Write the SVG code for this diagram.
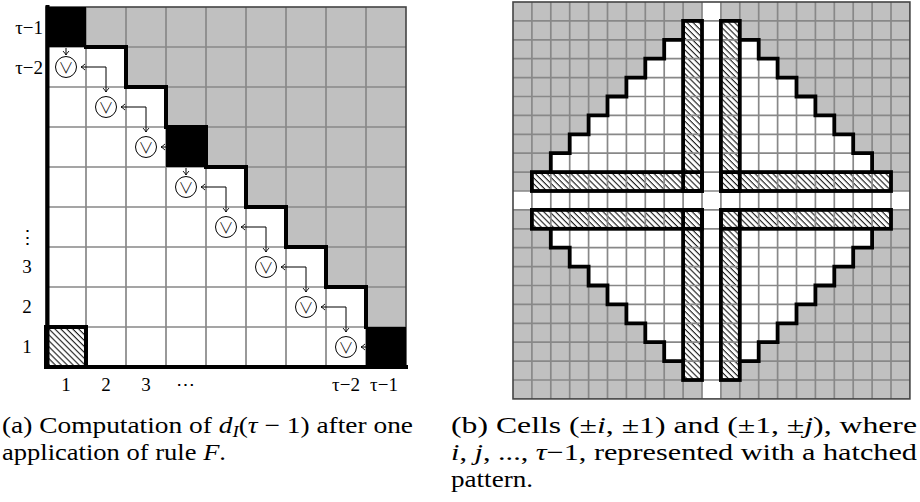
<svg xmlns="http://www.w3.org/2000/svg" width="920" height="502" viewBox="0 0 920 502">
<style>
text{font-family:"Liberation Serif","DejaVu Serif",serif;fill:#000}
.lbl{font-size:19px}
.cap{font-size:23px}
.it{font-style:italic}
.gray{fill:#c0c0c0}
.grid{stroke:#888;stroke-width:1.7;fill:none}
.thick{stroke:#000;stroke-width:4;fill:none;stroke-linecap:square;stroke-linejoin:miter}
.thickb{stroke:#000;stroke-width:3.8;fill:none;stroke-linecap:square;stroke-linejoin:miter}
.frame{stroke:#444;stroke-width:1.6;fill:none}
.blk{fill:#000}
.or circle{fill:#fff;stroke:#000;stroke-width:1}
.or text{font-family:"Noto Sans CJK JP","DejaVu Sans",sans-serif;font-weight:300;font-size:15px;text-anchor:middle}
.con{stroke:#000;stroke-width:1;fill:none}
</style>
<defs>
<pattern id="hatch" patternUnits="userSpaceOnUse" width="4.2" height="4.2" patternTransform="rotate(45)">
<rect width="4.2" height="4.2" fill="#fff"/>
<line x1="0" y1="0.6" x2="4.2" y2="0.6" stroke="#000" stroke-width="1"/>
</pattern>
<marker id="ah" viewBox="-5 -4 6 8" refX="0" refY="0" markerWidth="6" markerHeight="8" orient="auto-start-reverse" markerUnits="userSpaceOnUse">
<path d="M-4,-3 Q-1.5,-0.7 0,0 Q-1.5,0.7 -4,3" fill="none" stroke="#000" stroke-width="0.9"/>
</marker>
</defs>
<rect width="920" height="502" fill="#fff"/>

<g id="panel-a">
<rect x="46" y="7" width="360" height="360" fill="#fff"/>
<path class="gray" d="M86,7 H406 V327 H366 V287 H326 V247 H286 V207 H246 V167 H206 V127 H166 V87 H126 V47 H86 Z"/>
<path class="grid" d="M86,7V367M126,7V367M166,7V367M206,7V367M246,7V367M286,7V367M326,7V367M366,7V367M46,47H406M46,87H406M46,127H406M46,167H406M46,207H406M46,247H406M46,287H406M46,327H406"/>
<rect class="frame" x="46" y="7" width="360" height="360"/>
<rect id="cell-hatch" x="46" y="327" width="40" height="40" fill="url(#hatch)" stroke="#000" stroke-width="4"/>
<rect id="black-1" class="blk" x="46" y="7" width="40" height="40"/>
<rect id="black-2" class="blk" x="166" y="127" width="40" height="40"/>
<rect id="black-3" class="blk" x="366" y="327" width="40" height="40"/>
<path class="thick" d="M86,47 H126 V87 H166 V127 H206 V167 H246 V207 H286 V247 H326 V287 H366 V327"/>
<path class="thick" d="M47.5,7 V367 H406"/>
<text class="lbl" x="43" y="34" text-anchor="end">τ−1</text>
<text class="lbl" x="43" y="74" text-anchor="end">τ−2</text>
<text class="lbl" x="27" y="244" text-anchor="middle" font-family="DejaVu Serif">⋮</text>
<text class="lbl" x="27" y="273" text-anchor="middle">3</text>
<text class="lbl" x="27" y="313" text-anchor="middle">2</text>
<text class="lbl" x="27" y="353" text-anchor="middle">1</text>
<text class="lbl" x="66" y="391" text-anchor="middle">1</text>
<text class="lbl" x="106" y="391" text-anchor="middle">2</text>
<text class="lbl" x="146" y="391" text-anchor="middle">3</text>
<text class="lbl" x="185" y="391" text-anchor="middle">⋯</text>
<text class="lbl" x="346" y="391" text-anchor="middle">τ−2</text>
<text class="lbl" x="384" y="391" text-anchor="middle">τ−1</text>
</g>

<g id="connectors">
<path class="con" d="M66,48 V55" marker-end="url(#ah)"/>
<path class="con" d="M81,67 H106 V92" marker-start="url(#ah)" marker-end="url(#ah)"/>
<path class="con" d="M121,107 H146 V132" marker-start="url(#ah)" marker-end="url(#ah)"/>
<path class="con" d="M166,147 H161" marker-end="url(#ah)"/>
<path class="con" d="M186,168 V175" marker-end="url(#ah)"/>
<path class="con" d="M201,187 H226 V212" marker-start="url(#ah)" marker-end="url(#ah)"/>
<path class="con" d="M241,227 H266 V252" marker-start="url(#ah)" marker-end="url(#ah)"/>
<path class="con" d="M281,267 H306 V292" marker-start="url(#ah)" marker-end="url(#ah)"/>
<path class="con" d="M321,307 H346 V332" marker-start="url(#ah)" marker-end="url(#ah)"/>
<path class="con" d="M366,347 H361" marker-end="url(#ah)"/>
</g>

<g id="or1" class="or"><circle cx="66" cy="67" r="10.5"/><text x="66" y="72.5">∨</text></g>
<g id="or2" class="or"><circle cx="106" cy="107" r="10.5"/><text x="106" y="112.5">∨</text></g>
<g id="or3" class="or"><circle cx="146" cy="147" r="10.5"/><text x="146" y="152.5">∨</text></g>
<g id="or4" class="or"><circle cx="186" cy="187" r="10.5"/><text x="186" y="192.5">∨</text></g>
<g id="or5" class="or"><circle cx="226" cy="227" r="10.5"/><text x="226" y="232.5">∨</text></g>
<g id="or6" class="or"><circle cx="266" cy="267" r="10.5"/><text x="266" y="272.5">∨</text></g>
<g id="or7" class="or"><circle cx="306" cy="307" r="10.5"/><text x="306" y="312.5">∨</text></g>
<g id="or8" class="or"><circle cx="346" cy="347" r="10.5"/><text x="346" y="352.5">∨</text></g>

<g id="panel-b" transform="translate(513,2)">
<rect class="gray" x="0" y="0" width="396.9" height="396.9"/>
<path fill="#fff" d="M189,0 H207.9 V18.9 H226.8 V37.8 H245.7 V56.7 H264.6 V75.6 H283.5 V94.5 H302.4 V113.4 H321.3 V132.3 H340.2 V151.2 H359.1 V170.1 H378 V189 H396.9 V207.9 H378 V226.8 H359.1 V245.7 H340.2 V264.6 H321.3 V283.5 H302.4 V302.4 H283.5 V321.3 H264.6 V340.2 H245.7 V359.1 H226.8 V378 H207.9 V396.9 H189 V378 H170.1 V359.1 H151.2 V340.2 H132.3 V321.3 H113.4 V302.4 H94.5 V283.5 H75.6 V264.6 H56.7 V245.7 H37.8 V226.8 H18.9 V207.9 H0 V189 H18.9 V170.1 H37.8 V151.2 H56.7 V132.3 H75.6 V113.4 H94.5 V94.5 H113.4 V75.6 H132.3 V56.7 H151.2 V37.8 H170.1 V18.9 H189 Z"/>
<g fill="url(#hatch)">
<rect x="170.1" y="18.9" width="18.9" height="170.1"/>
<rect x="18.9" y="170.1" width="170.1" height="18.9"/>
<rect x="207.9" y="18.9" width="18.9" height="170.1"/>
<rect x="207.9" y="170.1" width="170.1" height="18.9"/>
<rect x="170.1" y="207.9" width="18.9" height="170.1"/>
<rect x="18.9" y="207.9" width="170.1" height="18.9"/>
<rect x="207.9" y="207.9" width="18.9" height="170.1"/>
<rect x="207.9" y="207.9" width="170.1" height="18.9"/>
</g>
<path class="grid" stroke-width="1.6" d="M18.9,0V396.9M37.8,0V396.9M56.7,0V396.9M75.6,0V396.9M94.5,0V396.9M113.4,0V396.9M132.3,0V396.9M151.2,0V396.9M170.1,0V396.9M189,0V396.9M207.9,0V396.9M226.8,0V396.9M245.7,0V396.9M264.6,0V396.9M283.5,0V396.9M302.4,0V396.9M321.3,0V396.9M340.2,0V396.9M359.1,0V396.9M378,0V396.9M0,18.9H396.9M0,37.8H396.9M0,56.7H396.9M0,75.6H396.9M0,94.5H396.9M0,113.4H396.9M0,132.3H396.9M0,151.2H396.9M0,170.1H396.9M0,189H396.9M0,207.9H396.9M0,226.8H396.9M0,245.7H396.9M0,264.6H396.9M0,283.5H396.9M0,302.4H396.9M0,321.3H396.9M0,340.2H396.9M0,359.1H396.9M0,378H396.9"/>
<rect class="frame" x="0" y="0" width="396.9" height="396.9"/>
<g class="thickb">
<rect x="170.1" y="18.9" width="18.9" height="170.1"/>
<rect x="18.9" y="170.1" width="170.1" height="18.9"/>
<rect x="207.9" y="18.9" width="18.9" height="170.1"/>
<rect x="207.9" y="170.1" width="170.1" height="18.9"/>
<rect x="170.1" y="207.9" width="18.9" height="170.1"/>
<rect x="18.9" y="207.9" width="170.1" height="18.9"/>
<rect x="207.9" y="207.9" width="18.9" height="170.1"/>
<rect x="207.9" y="207.9" width="170.1" height="18.9"/>
<path d="M170.1,37.8 H151.2 V56.7 H132.3 V75.6 H113.4 V94.5 H94.5 V113.4 H75.6 V132.3 H56.7 V151.2 H37.8 V170.1"/>
<path d="M226.8,37.8 H245.7 V56.7 H264.6 V75.6 H283.5 V94.5 H302.4 V113.4 H321.3 V132.3 H340.2 V151.2 H359.1 V170.1"/>
<path d="M170.1,359.1 H151.2 V340.2 H132.3 V321.3 H113.4 V302.4 H94.5 V283.5 H75.6 V264.6 H56.7 V245.7 H37.8 V226.8"/>
<path d="M226.8,359.1 H245.7 V340.2 H264.6 V321.3 H283.5 V302.4 H302.4 V283.5 H321.3 V264.6 H340.2 V245.7 H359.1 V226.8"/>
</g>
</g>

<g id="captions">
<text class="cap" x="2" y="433" textLength="411" lengthAdjust="spacingAndGlyphs">(a) Computation of <tspan class="it">d</tspan><tspan class="it" font-size="16" dy="4">I</tspan><tspan dy="-4">(</tspan><tspan class="it">τ</tspan> − 1) after one</text>
<text class="cap" x="2" y="460" textLength="224" lengthAdjust="spacingAndGlyphs">application of rule <tspan class="it">F</tspan>.</text>
<text class="cap" x="451" y="433" textLength="466" lengthAdjust="spacingAndGlyphs">(b) Cells (±<tspan class="it">i</tspan>, ±1) and (±1, ±<tspan class="it">j</tspan>), where</text>
<text class="cap" x="451" y="460" textLength="466" lengthAdjust="spacingAndGlyphs"><tspan class="it">i</tspan>, <tspan class="it">j</tspan>, ..., <tspan class="it">τ</tspan>−1, represented with a hatched</text>
<text class="cap" x="451" y="487" textLength="82" lengthAdjust="spacingAndGlyphs">pattern.</text>
</g>
</svg>
